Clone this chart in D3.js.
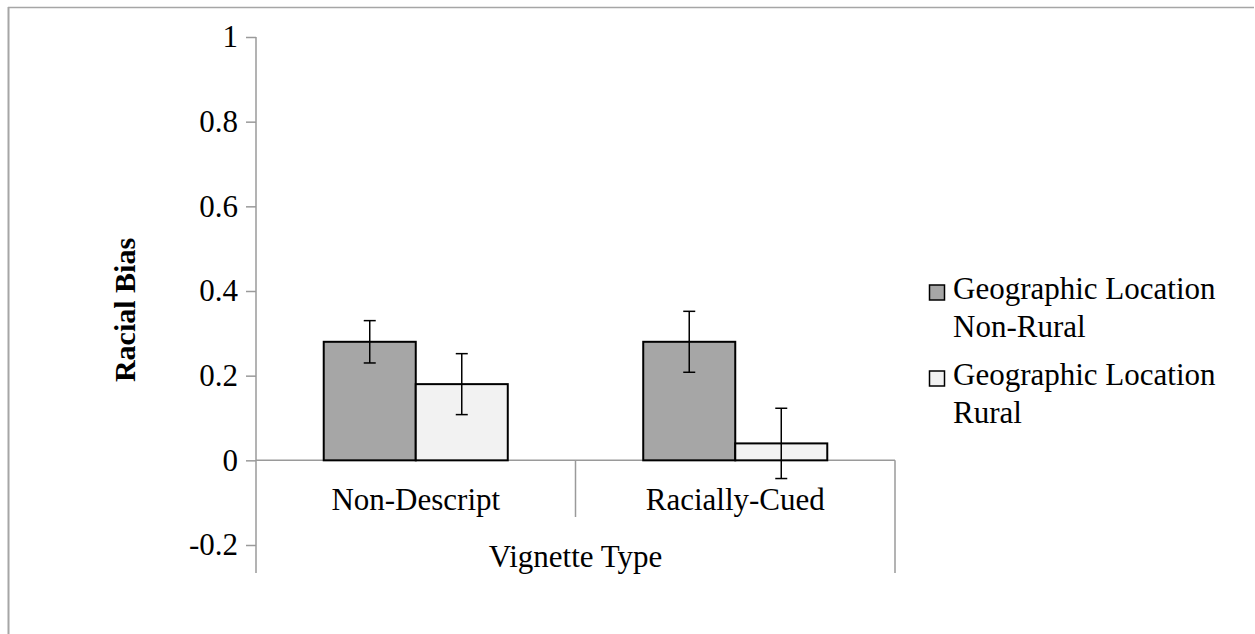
<!DOCTYPE html>
<html>
<head>
<meta charset="utf-8">
<script src="https://cdn.jsdelivr.net/npm/d3@7"></script>
<style>
  body { margin: 0; background: #fff; }
  svg text { font-family: "Liberation Serif", "Times New Roman", serif; fill: #000; }
</style>
</head>
<body>
<div id="chart"></div>
<script>
let categories = ["Non-Descript", "Racially-Cued"];        // kategorie na ose x
let seriesNames = ["Non-Rural", "Rural"];                  // skupiny
let legendLines = [["Geographic Location", "Non-Rural"], ["Geographic Location", "Rural"]];
let nonRural = [0.28, 0.28];                              // hodnoty Non-Rural
let rural = [0.18, 0.04];                                 // hodnoty Rural
let nonRuralErr = [0.05, 0.072];                          // chybové úsečky
let ruralErr = [0.072, 0.083];
let yTicks = [-0.2, 0, 0.2, 0.4, 0.6, 0.8, 1];
let seriesColors = ["#a6a6a6", "#f2f2f2"];

let width = 1255, height = 634;
let fontSize = 31;

let svg = d3.select("#chart")
  .append("svg")
  .attr("width", width)
  .attr("height", height);

// rámeček grafu (jen horní a levá strana viditelná)
svg.append("line").attr("x1", 8.5).attr("x2", 8.5).attr("y1", 7).attr("y2", height)
  .attr("stroke", "#a6a6a6").attr("stroke-width", 2);
svg.append("line").attr("x1", 8).attr("x2", 1254).attr("y1", 7.5).attr("y2", 7.5)
  .attr("stroke", "#a6a6a6").attr("stroke-width", 1.5);

let Y = d3.scaleLinear()
  .domain([-0.2, 1])
  .range([545, 37]);

let X = d3.scaleBand()
  .domain(categories)
  .range([256, 895]);

let X1 = d3.scaleBand()
  .domain(seriesNames)
  .range([0, X.bandwidth()])
  .paddingOuter(0.736);

let axisColor = "#9a9a9a";
let bottomEdge = 573;

// osa y
let yAxis = svg.append("g")
  .attr("transform", "translate(256,0)")
  .call(d3.axisLeft(Y).tickValues(yTicks).tickSize(10).tickPadding(8));
yAxis.select(".domain").remove();
yAxis.selectAll(".tick line").attr("stroke", axisColor).attr("stroke-width", 1.5);
yAxis.selectAll(".tick text")
  .style("font-size", fontSize + "px")
  .attr("fill", "#000")
  .text(d => (Math.round(d * 10) / 10).toString());

svg.append("line")
  .attr("x1", 256).attr("x2", 256)
  .attr("y1", Y(1)).attr("y2", bottomEdge)
  .attr("stroke", axisColor).attr("stroke-width", 1.5);

// osa x (nulová čára)
svg.append("line")
  .attr("x1", 256).attr("x2", 895)
  .attr("y1", Y(0)).attr("y2", Y(0))
  .attr("stroke", axisColor).attr("stroke-width", 1.5);

// oddělovače kategorií
svg.selectAll("line.sep")
  .data(categories.slice(1))
  .join("line")
  .attr("class", "sep")
  .attr("x1", d => X(d)).attr("x2", d => X(d))
  .attr("y1", Y(0)).attr("y2", 517)
  .attr("stroke", axisColor).attr("stroke-width", 1.5);

svg.append("line")
  .attr("x1", 895).attr("x2", 895)
  .attr("y1", Y(0)).attr("y2", bottomEdge)
  .attr("stroke", axisColor).attr("stroke-width", 1.5);

// popisky kategorií
svg.selectAll("text.cat")
  .data(categories)
  .join("text")
  .attr("class", "cat")
  .attr("x", d => X(d) + X.bandwidth() / 2)
  .attr("y", 510)
  .attr("text-anchor", "middle")
  .style("font-size", fontSize + "px")
  .text(d => d);

svg.append("text")
  .attr("x", (256 + 895) / 2)
  .attr("y", 567)
  .attr("text-anchor", "middle")
  .style("font-size", fontSize + "px")
  .text("Vignette Type");

// název osy y
svg.append("text")
  .attr("transform", "translate(135,310) rotate(-90)")
  .attr("text-anchor", "middle")
  .style("font-size", "30px")
  .style("font-weight", "bold")
  .text("Racial Bias");

// sloupce
let seriesData = [nonRural, rural];
let seriesErr = [nonRuralErr, ruralErr];

seriesNames.forEach(function (s, si) {
  let g = svg.append("g");
  g.selectAll("rect")
    .data(categories)
    .join("rect")
    .attr("x", d => X(d) + X1(s))
    .attr("y", (d, i) => Y(Math.max(0, seriesData[si][i])))
    .attr("width", X1.bandwidth())
    .attr("height", (d, i) => Math.abs(Y(seriesData[si][i]) - Y(0)))
    .attr("fill", seriesColors[si])
    .attr("stroke", "#000")
    .attr("stroke-width", 2);

  // chybové úsečky
  let eb = g.selectAll("g.err")
    .data(categories)
    .join("g")
    .attr("class", "err");
  let cx = d => X(d) + X1(s) + X1.bandwidth() / 2;
  eb.append("line")
    .attr("x1", cx).attr("x2", cx)
    .attr("y1", (d, i) => Y(seriesData[si][i] + seriesErr[si][i]))
    .attr("y2", (d, i) => Y(seriesData[si][i] - seriesErr[si][i]))
    .attr("stroke", "#000").attr("stroke-width", 1.5);
  [1, -1].forEach(function (sign) {
    eb.append("line")
      .attr("x1", d => cx(d) - 6).attr("x2", d => cx(d) + 6)
      .attr("y1", (d, i) => Y(seriesData[si][i] + sign * seriesErr[si][i]))
      .attr("y2", (d, i) => Y(seriesData[si][i] + sign * seriesErr[si][i]))
      .attr("stroke", "#000").attr("stroke-width", 1.5);
  });
});

// legenda
let legend = svg.append("g");
let entryTop = [299, 385];
legendLines.forEach(function (lines, i) {
  legend.append("rect")
    .attr("x", 929.5).attr("y", entryTop[i] - 14)
    .attr("width", 15).attr("height", 15)
    .attr("fill", seriesColors[i])
    .attr("stroke", "#000").attr("stroke-width", 1.5);
  lines.forEach(function (t, j) {
    legend.append("text")
      .attr("x", 953)
      .attr("y", entryTop[i] + j * 38)
      .style("font-size", fontSize + "px")
      .text(t);
  });
});
</script>
</body>
</html>
